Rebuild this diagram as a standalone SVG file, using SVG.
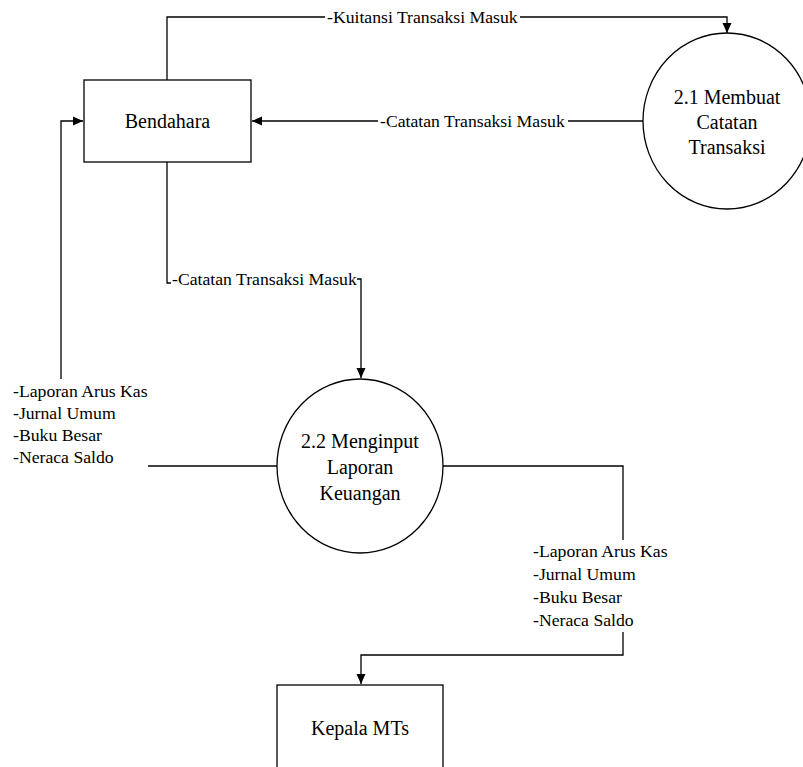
<svg xmlns="http://www.w3.org/2000/svg" width="803" height="767" viewBox="0 0 803 767">
<style>
.shape{fill:#fff;stroke:#000;stroke-width:1.3}
.ln{fill:none;stroke:#000;stroke-width:1.3}
.nt{font-family:'Liberation Serif','Times New Roman',serif;font-size:20px;fill:#000;text-anchor:middle}
.lb{font-family:'Liberation Serif','Times New Roman',serif;font-size:17.7px;fill:#000}
</style>
<defs>
<marker id="arr" viewBox="0 0 10 10" refX="10" refY="5" markerWidth="10" markerHeight="10" markerUnits="userSpaceOnUse" orient="auto">
<path d="M0,0.5 L10,5 L0,9.5 Z" fill="#000"/>
</marker>
</defs>
<rect width="803" height="767" fill="#fff"/>
<g id="connectors">
<path class="ln" d="M167,80 V17 H325"/>
<path class="ln" d="M520,17 H727 V33" marker-end="url(#arr)"/>
<path class="ln" d="M643,121 H568"/>
<path class="ln" d="M378,121 H252" marker-end="url(#arr)"/>
<path class="ln" d="M167,162 V283 H171"/>
<path class="ln" d="M357,279 H361 V378" marker-end="url(#arr)"/>
<path class="ln" d="M277,466 H148"/>
<path class="ln" d="M61,379 V121 H83" marker-end="url(#arr)"/>
<path class="ln" d="M443,466 H623 V540"/>
<path class="ln" d="M623,632 V655 H361 V684" marker-end="url(#arr)"/>
<text class="lb" x="327" y="23">-Kuitansi Transaksi Masuk</text>
<text class="lb" x="380" y="127">-Catatan Transaksi Masuk</text>
<text class="lb" x="172" y="285">-Catatan Transaksi Masuk</text>
<text class="lb" x="13" y="397">-Laporan Arus Kas</text>
<text class="lb" x="13" y="419">-Jurnal Umum</text>
<text class="lb" x="13" y="441">-Buku Besar</text>
<text class="lb" x="13" y="463">-Neraca Saldo</text>
<text class="lb" x="533" y="557">-Laporan Arus Kas</text>
<text class="lb" x="533" y="580">-Jurnal Umum</text>
<text class="lb" x="533" y="603">-Buku Besar</text>
<text class="lb" x="533" y="626">-Neraca Saldo</text>
</g>
<g id="bendahara">
<rect class="shape" x="84" y="80" width="167" height="82"/>
<text class="nt" x="167.5" y="128">Bendahara</text>
</g>
<g id="p21">
<ellipse class="shape" cx="727" cy="121" rx="84" ry="88"/>
<text class="nt" x="727" y="104">2.1 Membuat</text>
<text class="nt" x="727" y="129">Catatan</text>
<text class="nt" x="727" y="154">Transaksi</text>
</g>
<g id="p22">
<ellipse class="shape" cx="360" cy="466" rx="83" ry="87"/>
<text class="nt" x="360" y="448">2.2 Menginput</text>
<text class="nt" x="360" y="474">Laporan</text>
<text class="nt" x="360" y="500">Keuangan</text>
</g>
<g id="kepala">
<rect class="shape" x="277" y="685" width="166" height="90"/>
<text class="nt" x="360" y="735">Kepala MTs</text>
</g>
</svg>
